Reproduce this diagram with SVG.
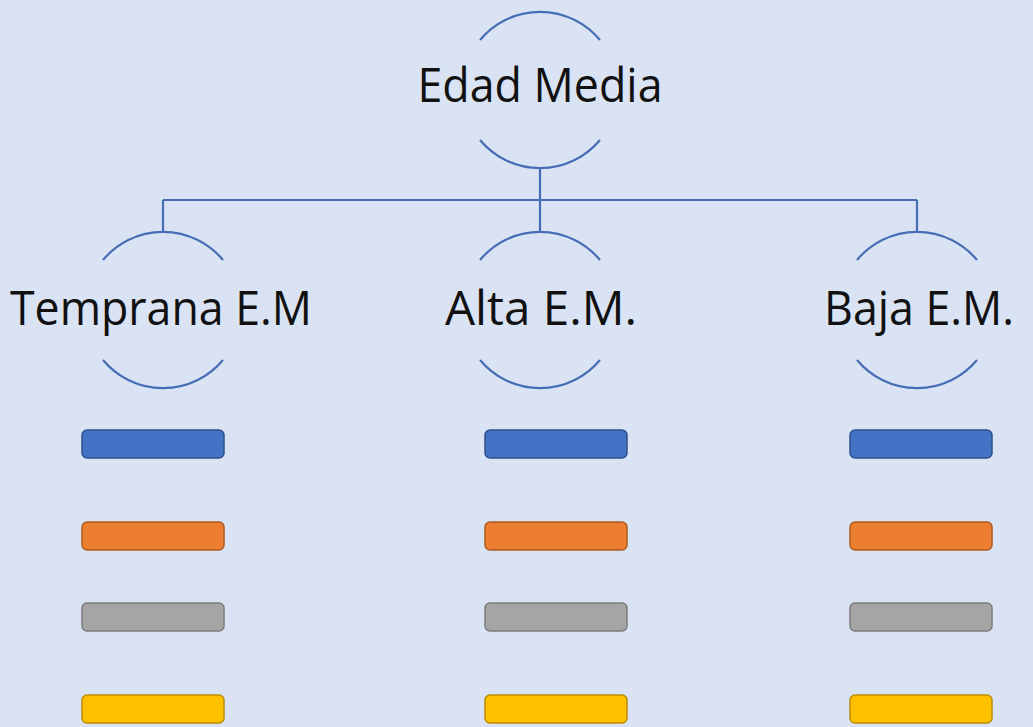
<svg xmlns="http://www.w3.org/2000/svg" width="1033" height="727" viewBox="0 0 1033 727">
<style>
.arc{fill:none;stroke:#476db5;stroke-width:2.2}
.con{fill:none;stroke:#476db5;stroke-width:2.2}
.lbl{font-family:"Open Sans","Noto Sans","Liberation Sans",sans-serif;font-size:47px;fill:#111;text-anchor:middle}
.b1{fill:#4472c4;stroke:#2f528f;stroke-width:1.5}
.b2{fill:#ed7d31;stroke:#ae5a21;stroke-width:1.5}
.b3{fill:#a5a5a5;stroke:#7b7b7b;stroke-width:1.5}
.b4{fill:#ffc000;stroke:#bc8c00;stroke-width:1.5}
</style>
<defs>
<g id="arcs">
<path class="arc" d="M-60,-50 A78,78 0 0 1 60,-50"/>
<path class="arc" d="M-60,50 A78,78 0 0 0 60,50"/>
</g>
<g id="bars">
<rect class="b1" x="0" y="430" width="142" height="28" rx="5"/>
<rect class="b2" x="0" y="522" width="142" height="28" rx="5"/>
<rect class="b3" x="0" y="603" width="142" height="28" rx="5"/>
<rect class="b4" x="0" y="695" width="142" height="28" rx="5"/>
</g>
</defs>
<rect width="1033" height="727" fill="#dae3f3"/>
<g id="connectors">
<path class="con" d="M540,168 V233"/>
<path class="con" d="M163,200 H917"/>
<path class="con" d="M163,200 V233"/>
<path class="con" d="M917,200 V233"/>
</g>
<g id="node-edad-media">
<use href="#arcs" x="540" y="90"/>
<text class="lbl" x="540" y="102" textLength="245" lengthAdjust="spacingAndGlyphs">Edad Media</text>
</g>
<g id="node-temprana">
<use href="#arcs" x="163" y="310"/>
<text class="lbl" x="161" y="325" textLength="302" lengthAdjust="spacingAndGlyphs">Temprana E.M</text>
</g>
<g id="node-alta">
<use href="#arcs" x="540" y="310"/>
<text class="lbl" x="541" y="325" textLength="192" lengthAdjust="spacingAndGlyphs">Alta E.M.</text>
</g>
<g id="node-baja">
<use href="#arcs" x="917" y="310"/>
<text class="lbl" x="919" y="325" textLength="190" lengthAdjust="spacingAndGlyphs">Baja E.M.</text>
</g>
<g id="bars-temprana"><use href="#bars" x="82"/></g>
<g id="bars-alta"><use href="#bars" x="485"/></g>
<g id="bars-baja"><use href="#bars" x="850"/></g>
</svg>
